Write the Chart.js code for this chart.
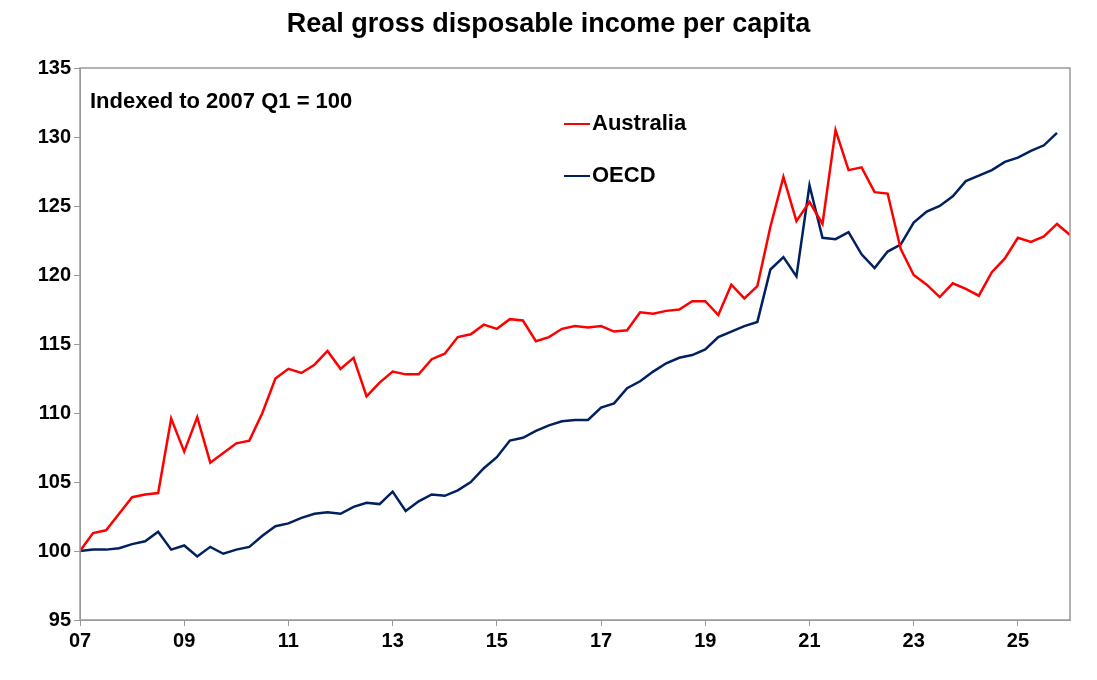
<!DOCTYPE html>
<html>
<head>
<meta charset="utf-8">
<script src="https://cdn.jsdelivr.net/npm/chart.js@4"></script>
<style>
  body { margin: 0; background: #fff; font-family: "Liberation Sans", Arial, sans-serif; }
  #wrap { position: relative; width: 1097px; height: 680px; }
  #title { position: absolute; top: 8px; left: 0; width: 1097px; text-align: center; font-weight: bold; font-size: 27px; }
  .note { position: absolute; font-weight: bold; font-size: 22px; color: #000; }
  .key { display: inline-block; width: 26px; height: 2px; vertical-align: middle; margin-right: 2px; }
</style>
</head>
<body>
<div id="wrap">
  <canvas id="c" width="1097" height="680"></canvas>
  <div id="title">Real gross disposable income per capita</div>
  <div class="note" style="left:90px;top:88px;">Indexed to 2007 Q1 = 100</div>
  <div class="note" style="left:564px;top:110px;"><span class="key" style="background:#ff0000"></span>Australia</div>
  <div class="note" style="left:564px;top:162px;"><span class="key" style="background:#002060"></span>OECD</div>
</div>
<script>
// quarterly, starting 2007 Q1
const START_YEAR = 2007;
const australia = [
  100.0, 101.3, 101.5, 102.7, 103.9, 104.1, 104.2, 109.6, 107.2, 109.7,
  106.4, 107.1, 107.8, 108.0, 110.0, 112.5, 113.2, 112.9, 113.5, 114.5,
  113.2, 114.0, 111.2, 112.2, 113.0, 112.8, 112.8, 113.9, 114.3, 115.5,
  115.7, 116.4, 116.1, 116.8, 116.7, 115.2, 115.5, 116.1, 116.3, 116.2,
  116.3, 115.9, 116.0, 117.3, 117.2, 117.4, 117.5, 118.1, 118.1, 117.1,
  119.3, 118.3, 119.2, 123.5, 127.1, 123.9, 125.3, 123.7, 130.5, 127.6,
  127.8, 126.0, 125.9, 121.9, 120.0, 119.3, 118.4, 119.4, 119.0, 118.5,
  120.2, 121.2, 122.7, 122.4, 122.8, 123.7, 122.9
];
const oecd = [
  100.0, 100.1, 100.1, 100.2, 100.5, 100.7, 101.4, 100.1, 100.4, 99.6,
  100.3, 99.8, 100.1, 100.3, 101.1, 101.8, 102.0, 102.4, 102.7, 102.8,
  102.7, 103.2, 103.5, 103.4, 104.3, 102.9, 103.6, 104.1, 104.0, 104.4,
  105.0, 106.0, 106.8, 108.0, 108.2, 108.7, 109.1, 109.4, 109.5, 109.5,
  110.4, 110.7, 111.8, 112.3, 113.0, 113.6, 114.0, 114.2, 114.6, 115.5,
  115.9, 116.3, 116.6, 120.4, 121.3, 119.9, 126.5, 122.7, 122.6, 123.1,
  121.5, 120.5, 121.7, 122.2, 123.8, 124.6, 125.0, 125.7, 126.8, 127.2,
  127.6, 128.2, 128.5, 129.0, 129.4, 130.3
];
const toPoints = (arr) => arr.map((v, i) => ({ x: START_YEAR + i / 4, y: v }));

const frame = {
  id: 'frame',
  afterDraw(chart) {
    const { ctx, chartArea: a } = chart;
    ctx.save();
    ctx.strokeStyle = '#999';
    ctx.lineWidth = 1.5;
    ctx.strokeRect(a.left, a.top, a.right - a.left, a.bottom - a.top);
    ctx.restore();
  }
};

new Chart(document.getElementById('c'), {
  type: 'line',
  data: {
    datasets: [
      { label: 'Australia', data: toPoints(australia), borderColor: '#ff0000', borderWidth: 2.5, pointRadius: 0, tension: 0 },
      { label: 'OECD', data: toPoints(oecd), borderColor: '#002060', borderWidth: 2.5, pointRadius: 0, tension: 0 },
    ],
  },
  options: {
    responsive: false,
    animation: false,
    layout: { padding: { top: 68, right: 27, left: 0, bottom: 0 } },
    plugins: { legend: { display: false }, tooltip: { enabled: false } },
    scales: {
      x: {
        type: 'linear', min: 2007, max: 2026,
        afterFit: (s) => { s.height = 60; },
        afterBuildTicks: (s) => { s.ticks = []; for (let y = 2007; y <= 2025; y += 2) s.ticks.push({ value: y }); },
        ticks: {
          autoSkip: false, maxRotation: 0, color: '#000',
          font: { family: 'Liberation Sans', size: 20, weight: 'bold' },
          callback: (v) => String(v).slice(2),
        },
        grid: { drawOnChartArea: false, tickLength: 6, color: '#999' },
        border: { color: '#999' },
      },
      y: {
        min: 95, max: 135,
        afterFit: (s) => { s.width = 80; },
        ticks: { stepSize: 5, color: '#000', font: { family: 'Liberation Sans', size: 20, weight: 'bold' } },
        grid: { drawOnChartArea: false, tickLength: 6, color: '#999' },
        border: { color: '#999' },
      },
    },
  },
  plugins: [frame],
});
</script>
</body>
</html>
